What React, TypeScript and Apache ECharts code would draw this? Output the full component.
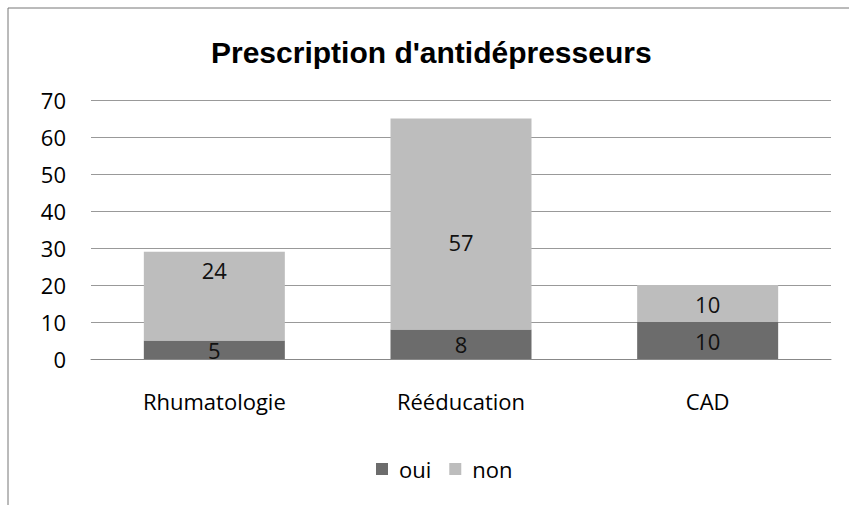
import React, { useEffect, useRef } from "react";
import * as echarts from "echarts";

const categories = ["Rhumatologie", "Rééducation", "CAD"];
const ouiValues = [5, 8, 10];
const nonValues = [24, 57, 10];
const yTicks = { min: 0, max: 70, interval: 10 };

// vertical nudges of the "non" labels, as placed in the original chart
const nonLabelNudge = [-26, 18, 0];

export default function App() {
  const ref = useRef<HTMLDivElement>(null);
  useEffect(() => {
    document.body.style.margin = "0";
    const chart = echarts.init(ref.current!, null, { renderer: "svg" });
    const labelFont = "Open Sans, Noto Sans, sans-serif";
    chart.setOption({
      animation: false,
      backgroundColor: "#ffffff",
      title: {
        text: "Prescription d'antidépresseurs",
        left: 206,
        top: 32,
        textStyle: {
          fontFamily: "Liberation Sans, Arial, sans-serif",
          fontWeight: "bold",
          fontSize: 30,
          color: "#000",
        },
      },
      graphic: [
        {
          type: "rect",
          shape: { x: 8, y: 8, width: 900, height: 560 },
          style: { fill: "none", stroke: "#777", lineWidth: 1 },
          silent: true,
        },
      ],
      legend: {
        data: ["oui", "non"],
        top: 453,
        left: 371,
        itemWidth: 12,
        itemHeight: 12,
        itemGap: 18,
        icon: "rect",
        textStyle: {
          fontFamily: labelFont,
          fontSize: 22,
          color: "#000",
          padding: [0, 0, 0, 6],
        },
      },
      grid: { left: 91, right: 18, top: 100, height: 259, containLabel: false },
      xAxis: {
        type: "category",
        data: categories,
        axisLine: { show: true, lineStyle: { color: "#888" } },
        axisTick: { show: false },
        axisLabel: {
          fontFamily: labelFont,
          fontSize: 22,
          color: "#000",
          margin: 31,
        },
      },
      yAxis: {
        type: "value",
        min: yTicks.min,
        max: yTicks.max,
        interval: yTicks.interval,
        axisLine: { show: false },
        axisTick: { show: false },
        splitLine: { lineStyle: { color: "#999", width: 1 } },
        axisLabel: {
          fontFamily: labelFont,
          fontSize: 22,
          color: "#000",
          margin: 25,
        },
      },
      series: [
        {
          name: "oui",
          type: "bar",
          stack: "total",
          data: ouiValues,
          barWidth: 141,
          itemStyle: { color: "#6c6c6c" },
          label: {
            show: true,
            position: "inside",
            fontFamily: labelFont,
            fontSize: 22,
            color: "#111",
          },
        },
        {
          name: "non",
          type: "bar",
          stack: "total",
          data: nonValues.map((v, i) => ({
            value: v,
            label: { offset: [0, nonLabelNudge[i]] },
          })),
          barWidth: 141,
          itemStyle: { color: "#bdbdbd" },
          label: {
            show: true,
            position: "inside",
            fontFamily: labelFont,
            fontSize: 22,
            color: "#111",
          },
        },
      ],
    });
    return () => chart.dispose();
  }, []);
  return (
    <div
      ref={ref}
      style={{ position: "absolute", left: 0, top: 0, width: 849, height: 505 }}
    />
  );
}
